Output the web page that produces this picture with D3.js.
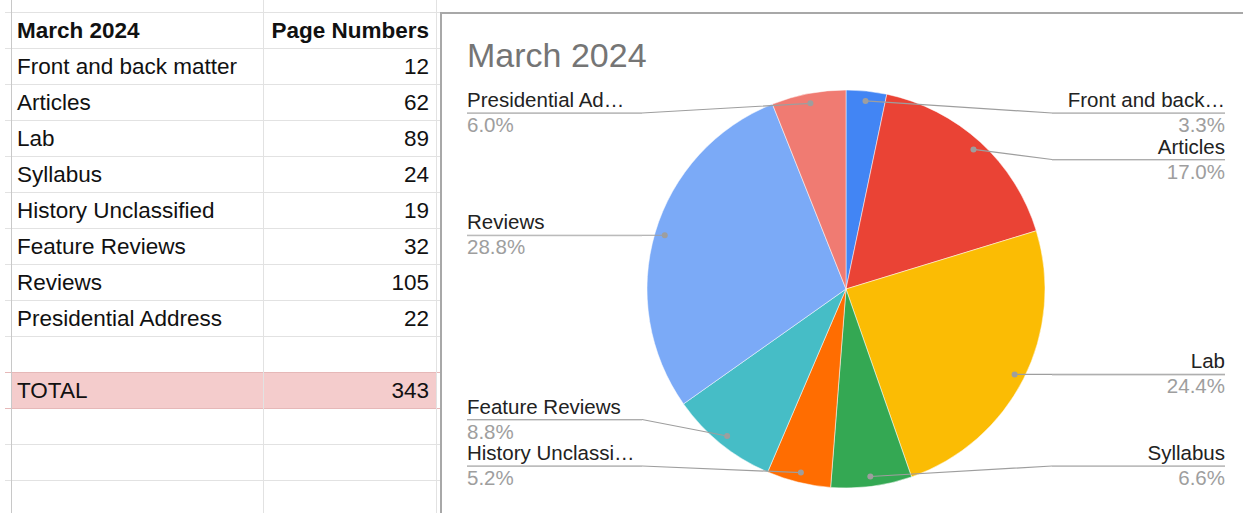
<!DOCTYPE html>
<html>
<head>
<meta charset="utf-8">
<script src="https://cdn.jsdelivr.net/npm/d3@7"></script>
<style>
  body { margin: 0; background: #fff; }
  svg { display: block; font-family: "Liberation Sans", Arial, sans-serif; }
</style>
</head>
<body>
<svg id="chart"></svg>
<script>
const svgWidth = 1243;
const svgHeight = 513;

// sheet data
const title = "March 2024";
const headerLabel = "Page Numbers";
const categories = ["Front and back matter", "Articles", "Lab", "Syllabus",
                    "History Unclassified", "Feature Reviews", "Reviews", "Presidential Address"];
const pageNumbers = [12, 62, 89, 24, 19, 32, 105, 22];
const totalLabel = "TOTAL";
const totalShown = 343;   // value typed in the sheet
const sliceColors = ["#4285f4", "#ea4335", "#fbbc04", "#34a853",
                     "#ff6d01", "#46bdc6", "#7baaf7", "#f07b72"];

const svg = d3.select("#chart")
              .attr("width", svgWidth)
              .attr("height", svgHeight);

// ---------- table ----------
const tableLeft = 11, colSplit = 263, tableRight = 436;
const rowTop = 12, rowH = 36, nRows = 14;
const rows = [[title, headerLabel]]
  .concat(categories.map((c, i) => [c, pageNumbers[i]]))
  .concat([["", ""], [totalLabel, totalShown]]);
const totalRow = rows.length - 1;

const yRow = d3.scaleLinear().domain([0, 1]).range([rowTop, rowTop + rowH]);

// total row fill
svg.append("rect")
   .attr("x", tableLeft)
   .attr("y", yRow(totalRow))
   .attr("width", tableRight - tableLeft)
   .attr("height", rowH)
   .attr("fill", "#f4cccc");

// grid lines
const grid = svg.append("g").attr("stroke", "#e2e2e2").attr("stroke-width", 1);
d3.range(nRows + 1).forEach(i => {
  let y = Math.round(yRow(i)) + 0.5;
  grid.append("line").attr("x1", 5).attr("x2", 440).attr("y1", y).attr("y2", y)
      .attr("stroke", (i == totalRow || i == totalRow + 1) ? "#e6b8b8" : "#e2e2e2");
});
[tableLeft, colSplit, tableRight].forEach(x => {
  grid.append("line").attr("x1", x + 0.5).attr("x2", x + 0.5)
      .attr("y1", 0).attr("y2", svgHeight)
      .attr("stroke", x == tableLeft ? "#c8c8c8" : "#e2e2e2");
});

// cell text
rows.forEach((r, i) => {
  let base = yRow(i) + 26;
  svg.append("text")
     .text(r[0])
     .attr("x", 17)
     .attr("y", base)
     .attr("font-size", "22.5px")
     .attr("font-weight", i == 0 ? "bold" : "normal")
     .attr("fill", "#111");
  svg.append("text")
     .text(r[1])
     .attr("x", 429)
     .attr("y", base)
     .attr("font-size", "22.5px")
     .attr("font-weight", i == 0 ? "bold" : "normal")
     .attr("text-anchor", "end")
     .attr("fill", "#111");
});

// ---------- chart frame ----------
svg.append("line").attr("x1", 441).attr("x2", svgWidth).attr("y1", 13).attr("y2", 13)
   .attr("stroke", "#a8a8a8").attr("stroke-width", 2);
svg.append("line").attr("x1", 441).attr("x2", 441).attr("y1", 12).attr("y2", svgHeight)
   .attr("stroke", "#a8a8a8").attr("stroke-width", 2);

svg.append("text")
   .text(title)
   .attr("x", 467)
   .attr("y", 67)
   .attr("font-size", "34px")
   .attr("fill", "#757575");

// ---------- pie ----------
const cx = 846, cy = 289, radius = 199;
const total = d3.sum(pageNumbers);
const pieData = categories.map((c, i) => ({ name: c, value: pageNumbers[i], color: sliceColors[i] }));
const pie = d3.pie().sort(null).value(d => d.value);
const arc = d3.arc().innerRadius(0).outerRadius(radius);
const arcs = pie(pieData);

const pieG = svg.append("g").attr("transform", `translate(${cx}, ${cy})`);
pieG.selectAll("path")
    .data(arcs)
    .enter()
    .append("path")
      .attr("d", arc)
      .attr("fill", d => d.data.color)
      .attr("stroke", "#fff")
      .attr("stroke-width", 0.5);

// label layout
const dotR = radius * 0.95;
const minY = 113, maxY = 466, gap = 46.5;
const rightEdge = 1225, leftEdge = 467;
const rightElbow = 1052, leftElbow = 642;
const maxLabelW = 168;
const pctFormat = d3.format(".1%");

let labels = arcs.map(a => {
  let mid = (a.startAngle + a.endAngle) / 2;
  return {
    name: a.data.name,
    pct: a.data.value / total,
    dx: cx + dotR * Math.sin(mid),
    dy: cy - dotR * Math.cos(mid),
    right: mid < Math.PI
  };
});
labels.forEach(l => l.ly = l.dy);

[true, false].forEach(side => {
  let group = labels.filter(l => l.right == side).sort((a, b) => a.dy - b.dy);
  let prev = minY - gap;
  group.forEach(l => { l.ly = Math.max(l.ly, prev + gap); prev = l.ly; });
  let next = maxY + gap;
  group.slice().reverse().forEach(l => { l.ly = Math.min(l.ly, next - gap); next = l.ly; });
});

const labelG = svg.append("g");
labels.forEach(l => {
  let edge = l.right ? rightEdge : leftEdge;
  let elbow = l.right ? rightElbow : leftElbow;
  let pts = Math.abs(l.ly - l.dy) < 1
    ? [[l.dx, l.ly], [edge, l.ly]]
    : [[l.dx, l.dy], [elbow, l.ly], [edge, l.ly]];
  labelG.append("path")
     .attr("d", d3.line()(pts))
     .attr("fill", "none")
     .attr("stroke", "#9e9e9e")
     .attr("stroke-width", 1.2);
  labelG.append("line")
     .attr("x1", l.right ? elbow : edge).attr("x2", l.right ? edge : elbow)
     .attr("y1", l.ly + 0.5).attr("y2", l.ly + 0.5)
     .attr("stroke", "#bdbdbd").attr("stroke-width", 1);
  labelG.append("circle")
     .attr("cx", l.dx).attr("cy", l.dy).attr("r", 3)
     .attr("fill", "#9e9e9e");

  let nameText = labelG.append("text")
     .text(l.name)
     .attr("x", edge)
     .attr("y", l.ly - 6)
     .attr("font-size", "20.5px")
     .attr("fill", "#222")
     .attr("text-anchor", l.right ? "end" : "start");
  // truncate long names like the sheet does
  let full = l.name, n = full.length;
  while (nameText.node().getComputedTextLength() > maxLabelW && n > 1) {
    n--;
    nameText.text(full.slice(0, n).trimEnd() + "\u2026");
  }

  labelG.append("text")
     .text(pctFormat(l.pct))
     .attr("x", edge)
     .attr("y", l.ly + 19)
     .attr("font-size", "20.5px")
     .attr("fill", "#9e9e9e")
     .attr("text-anchor", l.right ? "end" : "start");
});
</script>
</body>
</html>
